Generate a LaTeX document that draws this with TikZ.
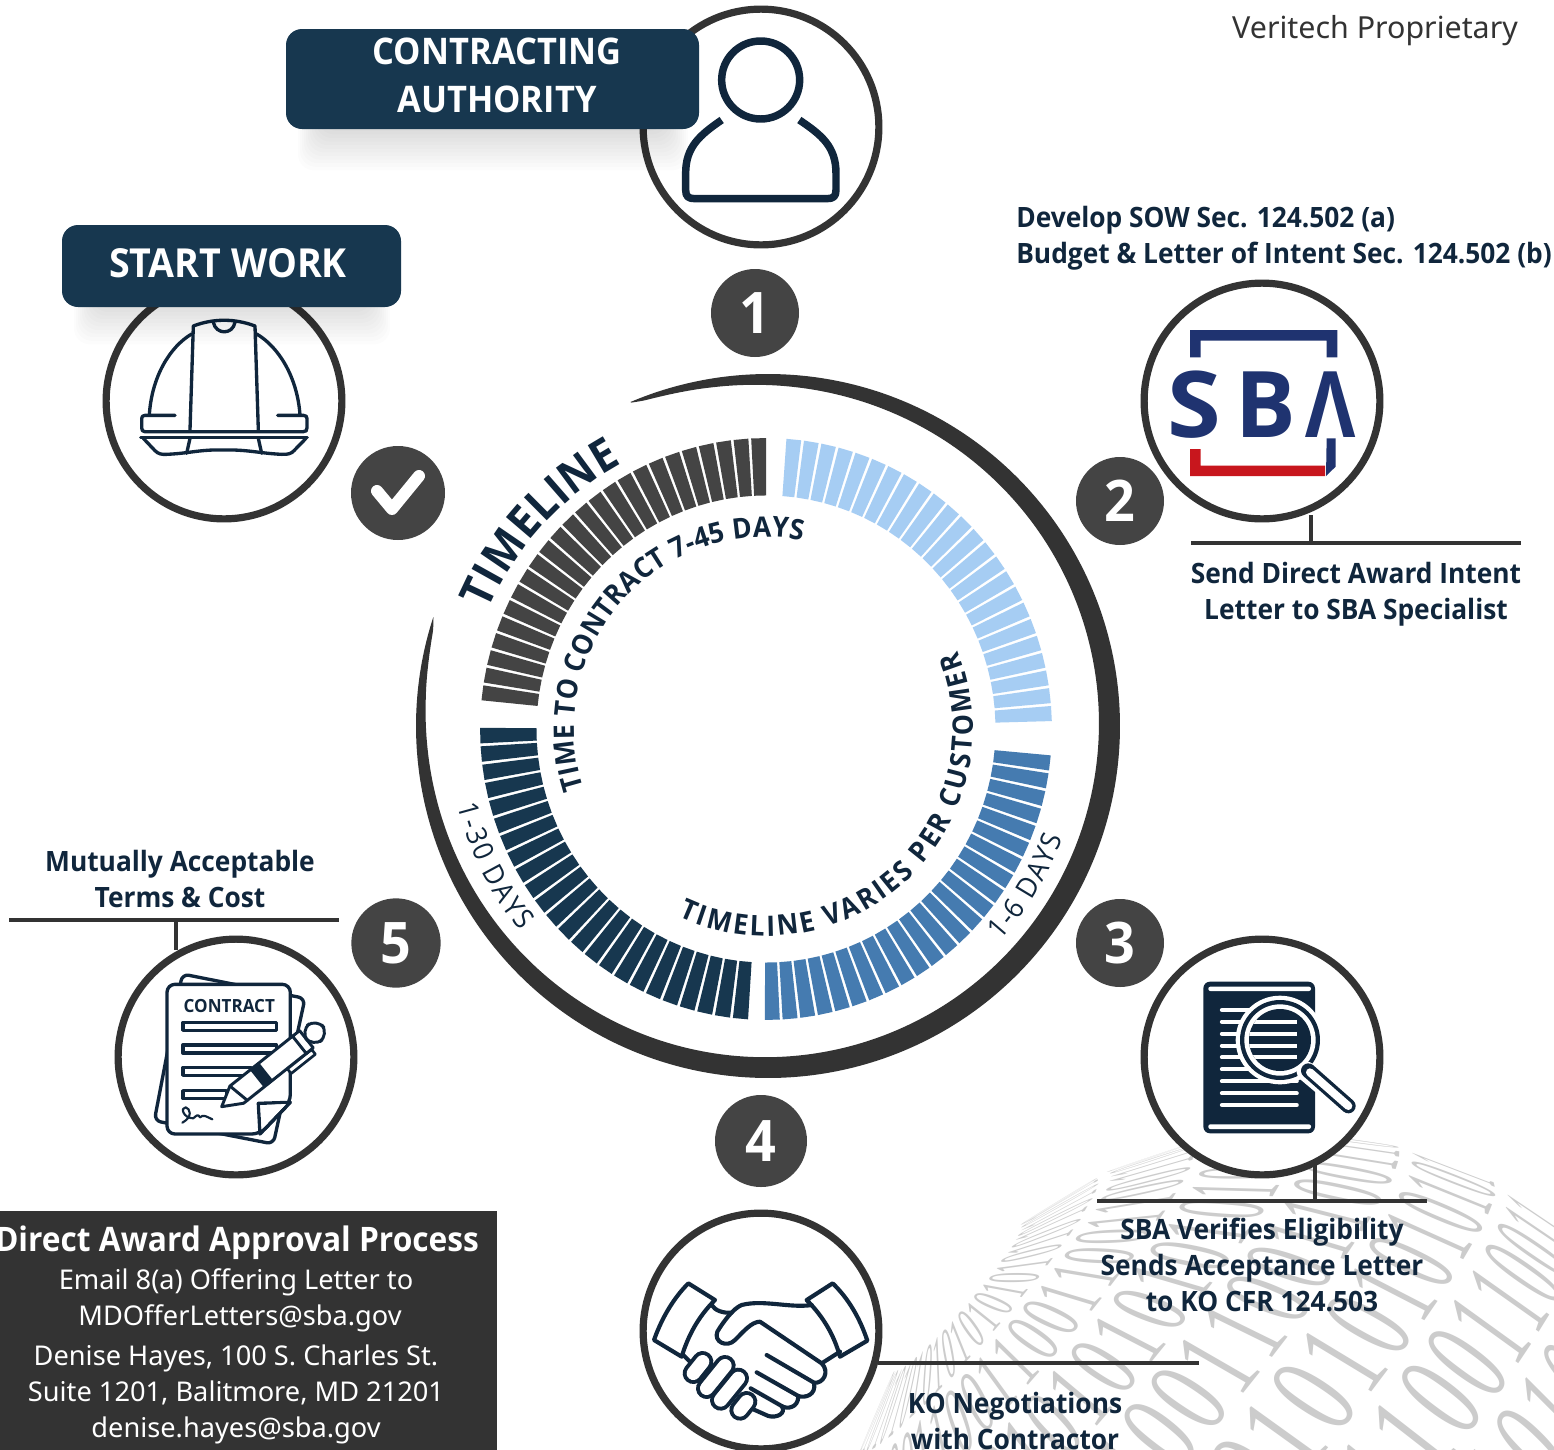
\documentclass[tikz,border=0pt]{standalone}
\usepackage{fontspec}
\usepackage{graphicx}
\setmainfont{Noto Sans}
\newfontfamily\hd{Open Sans}[FakeStretch=0.94]
\newfontfamily\wmf{Liberation Serif}
\newfontfamily\logof{Open Sans}
\usetikzlibrary{decorations.text}
\definecolor{ink}{HTML}{10263C}
\definecolor{banner}{HTML}{17374F}
\definecolor{ring}{HTML}{333333}
\definecolor{disc}{HTML}{444444}
\definecolor{lblue}{HTML}{A6CDF3}
\definecolor{mblue}{HTML}{457BB0}
\definecolor{sbab}{HTML}{1F3370}
\definecolor{sbar}{HTML}{C8161D}
\definecolor{wmc}{HTML}{CCCCCC}
\tikzset{
  iconring/.style={circle,draw=ring,line width=5.4pt,fill=white,minimum size=176.8pt,inner sep=0pt},
  numdisc/.style={circle,fill=disc,text=white,inner sep=0pt,font=\hd\bfseries\fontsize{43}{43}\selectfont},
  bannerbox/.style={rounded corners=12pt,fill=banner,inner sep=0pt},
  bannertxt/.style={text=white,align=center,inner sep=0pt,font=\hd\fontsize{27.5}{36}\selectfont\bfseries},
  lbl/.style={text=ink,inner sep=0pt,align=center,font=\hd\bfseries\fontsize{21}{27}\selectfont},
  boxt/.style={text=white,inner sep=0pt,anchor=base,font=\fontsize{20.4}{24}\selectfont},
  leader/.style={draw=ring,line width=3pt},
  ic/.style={draw=ink,line width=2.5pt,line cap=round,line join=round},
  hs/.style={draw=ink,line width=3.1pt,line cap=round,line join=round},
  icw/.style={draw=ink,fill=white,line width=2.5pt,line cap=round,line join=round},
  zoomed/.style={xscale=1/3,yscale=1/3}
}
\newcommand\barring[3]{\foreach \i in {0,...,23}{%
  \pgfmathsetmacro\aa{#1+(#2-#1)*\i/24}\pgfmathsetmacro\ab{#1+(#2-#1)*(\i+0.84)/24}%
  \fill[#3] (\aa:232)--(\aa:289)--(\ab:289)--(\ab:232)--cycle;}}
\newcommand\arcfont{\color{ink}\hd\bfseries\fontsize{21.2}{25}\selectfont}
\newcommand\arcfontb{\color{ink}\hd\bfseries\fontsize{34}{36}\selectfont}
\newcommand\arcfonts{\color{ink}\hd\fontsize{21}{24}\selectfont}
\begin{document}
\begin{tikzpicture}[x=0.75pt,y=-0.75pt]
\useasboundingbox (0,0) rectangle (1554,1450);
\clip (0,0) rectangle (1554,1450);
\fill[white] (0,0) rectangle (1554,1450);

% binary sphere watermark: orthographic sphere whose pole lies on the lower-left limb
\foreach \rw in {0,...,11}{
  \foreach \cn in {0,...,26}{
    \pgfmathsetmacro\th{18+13*\rw}
    \pgfmathsetmacro\la{-180+7*\cn+mod(\rw,2)*3.5}
    \pgfmathsetmacro\st{sin(\th)}\pgfmathsetmacro\ct{cos(\th)}
    \pgfmathsetmacro\sl{sin(\la)}\pgfmathsetmacro\cl{cos(\la)}
    \pgfmathsetmacro\qx{\st*(0.655*\cl-0.0907*\sl)-0.75*\ct}
    \pgfmathsetmacro\qy{\st*(0.756*\cl+0.0786*\sl)+0.65*\ct}
    \pgfmathsetmacro\qz{-0.993*\st*\sl+0.12*\ct}
    \pgfmathsetmacro\sx{1290+451*\qx}
    \pgfmathsetmacro\sy{1586-451*\qy}
    \pgfmathtruncatemacro\vis{and(\qz>0.05,and(\sy<1510,and(\sx<1620,\sx>780)))}
    \ifnum\vis=1
      \pgfmathsetmacro\ma{0.72*\st*(-0.655*\sl-0.0907*\cl)}
      \pgfmathsetmacro\mb{0.72*\st*(-0.756*\sl+0.0786*\cl)}
      \pgfmathsetmacro\mc{-1.0*(\ct*(0.655*\cl-0.0907*\sl)+0.75*\st)}
      \pgfmathsetmacro\md{-1.0*(\ct*(0.756*\cl+0.0786*\sl)-0.65*\st)}
      \pgfmathtruncatemacro\dg{mod(\rw*\rw+\cn*3+int(\cn/2)*\rw+1000,2)}
      \begin{scope}[cm={\ma,\mb,\mc,\md,(\sx,\sy)}]
        \node[transform shape,inner sep=0pt,text=wmc,font=\wmf\fontsize{100}{100}\selectfont] {\dg};
      \end{scope}
    \fi
  }
}

% central dial
\begin{scope}[shift={(768*0.75pt,-726*0.75pt)},x=0.75pt,y=0.75pt]
  \fill[ring] plot[domain=0:1,samples=160,smooth] ({113-311*\x}:{352}) --
     plot[domain=1:0,samples=160,smooth] ({113-311*\x}:{352-22*pow(max(sin(180*\x),0.0001),0.47)}) -- cycle;
\end{scope}
\begin{scope}[shift={(766*0.75pt,-729*0.75pt)},x=0.75pt,y=0.75pt]
  \begin{scope}[x=0.742pt,y=0.755pt]
  \barring{90}{174.9}{disc}
  \barring{85.9}{1.0}{lblue}
  \barring{-5.2}{-90.8}{mblue}
  \barring{266.4}{179.2}{banner}
  \end{scope}
  \path[decorate,decoration={text along path,text align=fit to path,text={|\arcfontb|TIMELINE}}]
     (157:302) arc[start angle=157,end angle=118.5,radius={302*0.75pt}];
  \path[decorate,decoration={text along path,text align=fit to path,text={|\arcfont|TIME TO CONTRACT 7-45 DAYS}}]
     (198:192) arc[start angle=198,end angle=79,radius={192*0.75pt}];
  \path[decorate,decoration={text along path,text align=fit to path,text={|\arcfont|TIMELINE VARIES PER CUSTOMER}}]
     (245:207) arc[start angle=245,end angle=382,radius={207*0.75pt}];
  \path[decorate,decoration={text along path,text align=fit to path,text={|\arcfonts|1-30 DAYS}}]
     (194:318) arc[start angle=194,end angle=219.5,radius={318*0.75pt}];
  \path[decorate,decoration={text along path,text align=fit to path,text={|\arcfonts|1-6 DAYS}}]
     (318:316) arc[start angle=318,end angle=339.8,radius={316*0.75pt}];
\end{scope}

% numbered discs
\node[numdisc,minimum size=66pt] (n1) at (755,313) {1};
\node[numdisc,minimum size=66pt] (n2) at (1120,501) {2};
\node[numdisc,minimum size=66pt] (n3) at (1120,943) {3};
\node[numdisc,minimum size=69pt] (n4) at (761,1141) {4};
\node[numdisc,minimum size=67pt] (n5) at (396,943) {5};
\node[circle,fill=disc,minimum size=70.5pt,inner sep=0pt] (nc) at (398,493) {};
\draw[white,line width=9pt,line cap=round,line join=round] (377,491) -- (392,509) -- (419,476);

% leader anchors
\coordinate (l2a) at (1191,543); \coordinate (l2b) at (1521,543);
\coordinate (l2v) at (1311,515); \coordinate (l2t) at (1311,543);
\coordinate (l5a) at (9,920); \coordinate (l5b) at (339,920);
\coordinate (l5v) at (176,950); \coordinate (l5t) at (176,920);
\coordinate (l3a) at (1097,1201); \coordinate (l3b) at (1427,1201);
\coordinate (l3v) at (1315,1165); \coordinate (l3t) at (1315,1201);
\coordinate (l4a) at (878,1363); \coordinate (l4b) at (1199,1363);
\draw[leader] (l2a) -- (l2b); \draw[leader] (l2v) -- (l2t);
\draw[leader] (l5a) -- (l5b); \draw[leader] (l5v) -- (l5t);
\draw[leader] (l3a) -- (l3b); \draw[leader] (l3v) -- (l3t);
\draw[leader] (l4a) -- (l4b);

% icon rings
\node[iconring] (c1) at (761,127) {};
\node[iconring] (c2) at (1262,401) {};
\node[iconring] (c3) at (1262,1057) {};
\node[iconring] (c4) at (761,1331) {};
\node[iconring] (c5) at (236,1057) {};
\node[iconring] (c0) at (224,401) {};

% person
\begin{scope}[shift={(620,0)},zoomed]
  \draw[ic,line width=5.6pt] (422,240) circle[radius=117];
  \draw[ic,line width=5.6pt,line cap=butt] (305,360) .. controls (240,405) and (197,440) .. (197,520) -- (197,570)
     .. controls (197,590) and (205,596) .. (225,596) -- (620,596) .. controls (640,596) and (648,590) .. (648,570)
     -- (648,520) .. controls (648,440) and (605,405) .. (538,360);
\end{scope}

% hard hat
\begin{scope}[shift={(90,290)},zoomed]
  \draw[ic] (178,375) .. controls (185,260) and (240,170) .. (305,132);
  \draw[ic] (500,132) .. controls (565,170) and (622,260) .. (630,375);
  \draw[ic] (300,420) -- (310,108) .. controls (370,85) and (435,85) .. (495,108) -- (505,420);
  \draw[ic] (370,97) .. controls (378,135) and (428,135) .. (435,97);
  \draw[ic] (255,376) -- (165,376) .. controls (158,376) and (155,380) .. (155,386) -- (155,413)
     .. controls (155,422) and (158,425) .. (165,425) -- (640,425) .. controls (648,425) and (651,422) .. (651,413)
     -- (651,386) .. controls (651,380) and (648,376) .. (640,376) -- (563,376);
  \draw[ic] (152,443) -- (652,443);
  \draw[ic] (160,445) -- (195,482) .. controls (205,492) and (215,494) .. (230,493)
     .. controls (300,490) and (330,478) .. (400,480) .. controls (470,478) and (510,490) .. (575,493)
     .. controls (595,494) and (605,490) .. (612,482) -- (648,445);
  \draw[ic] (300,445) -- (290,490);
  \draw[ic] (505,445) -- (515,490);
\end{scope}

% SBA logo
\begin{scope}[shift={(1130,275)},zoomed]
  \fill[sbab] (180,247) -- (180,165) -- (622,165) -- (622,247) -- (590,247) -- (590,197) -- (212,197) -- (212,247) -- cycle;
  \fill[sbar] (180,522) -- (212,522) -- (212,572) -- (585,572) -- (585,603) -- (180,603) -- cycle;
  \fill[sbab] (590,490) -- (617,490) -- (617,575) -- (588,603) -- cycle;
  \node[inner sep=0pt,text=sbab,font=\logof\bfseries\fontsize{69}{69}\selectfont] (sbaS) at (193,389) {\scalebox{1.06}[1]{S}};
  \node[inner sep=0pt,text=sbab,font=\logof\bfseries\fontsize{69}{69}\selectfont] (sbaB) at (406,389) {\scalebox{0.98}[1]{B}};
  \node[inner sep=0pt,text=sbab,font=\logof\bfseries\fontsize{69}{69}\selectfont] (sbaL) at (602,389) {\scalebox{0.84}[1]{Λ}};
\end{scope}

% document with lens
\begin{scope}[shift={(1130,930)},zoomed]
  \fill[ink,rounded corners=5pt] (220,155) rectangle (555,610);
  \fill[white,rounded corners=1.5pt] (235,170) rectangle (543,183);
  \fill[white,rounded corners=1.5pt] (235,583) rectangle (543,597);
  \foreach \yy in {240,275,311,347,382,418,454,490,525}{
    \draw[white,line width=3.2pt,line cap=round] (276,\yy) -- (500,\yy);
  }
  \fill[white] (450,330) circle[radius=133];
  \fill[ink] (450,330) circle[radius=120];
  \fill[white] (450,330) circle[radius=107];
  \fill[ink] (450,330) circle[radius=93];
  \begin{scope}
    \clip (450,330) circle[radius=93];
    \foreach \yy in {275,311,347,382}{
      \draw[white,line width=3.2pt,line cap=butt] (350,\yy) -- (500,\yy);
    }
  \end{scope}
  \draw[white,line width=15pt,line cap=round] (530,425) -- (655,530);
  \draw[ink,line width=11pt,line cap=round] (535,422) -- (655,528);
  \draw[white,line width=6pt,line cap=round] (540,427) -- (655,528);
\end{scope}

% contract
\begin{scope}[shift={(105,930)},zoomed]
  \draw[icw,rounded corners=5pt] (232,132) -- (600,205) -- (505,642) -- (148,572) -- cycle;
  \draw[icw,rounded corners=6pt] (186,163) -- (556,163) -- (556,517) -- (465,612) -- (186,612) -- cycle;
  \draw[ic] (460,520) -- (556,517) -- (465,612) -- cycle;
  \fill[white] (466,526) -- (543,522) -- (470,598) -- cycle;
  \node[inner sep=0pt,text=ink,font=\hd\bfseries\fontsize{13.6}{16}\selectfont] (ctxt) at (373,228) {CONTRACT};
  \draw[ic,line width=2.5pt] (234,277) rectangle (515,301);
  \draw[ic,line width=2.5pt] (234,345) rectangle (515,369);
  \draw[ic,line width=2.5pt] (234,412) rectangle (440,436);
  \draw[ic,line width=2.5pt] (234,482) rectangle (365,506);
  \draw[ic,line width=1.6pt] (232,578) .. controls (265,560) and (255,535) .. (242,532) .. controls (225,532) and (235,565) .. (265,565)
     .. controls (275,555) and (280,552) .. (285,562) .. controls (295,552) and (305,560) .. (322,568);
  \begin{scope}[shift={(350,530)},rotate=38.5]
    \draw[ic,fill=white,line width=2.2pt] (0,0) -- (58,-33) -- (300,-33) -- (300,33) -- (58,33) -- cycle;
    \fill[ink] (135,-33) rectangle (170,33);
    \draw[ic,line width=2.2pt] (58,-33) -- (72,33);
    \draw[ic,fill=white,line width=2pt] (225,34) rectangle (318,52);
    \draw[ic,fill=white,line width=2.2pt] (298,-33) rectangle (325,33);
    \draw[icw,line width=2.2pt,rounded corners=9pt] (325,-31) -- (388,-31) -- (388,31) -- (325,31) -- cycle;
  \end{scope}
\end{scope}

% handshake
\begin{scope}[shift={(630,1200)},zoomed]
  \draw[hs] (175,250) -- (255,300) .. controls (205,350) and (175,405) .. (155,470) -- (72,420) .. controls (95,355) and (130,295) .. (175,250) -- cycle;
  \draw[hs] (608,250) -- (530,300) .. controls (580,350) and (612,405) .. (630,470) -- (712,422) .. controls (690,355) and (655,295) .. (608,250) -- cycle;
  \draw[hs] (245,315) .. controls (255,332) and (280,340) .. (305,338);
  \draw[hs] (545,315) .. controls (480,325) and (400,298) .. (335,315) .. controls (310,325) and (280,365) .. (262,395)
     .. controls (250,425) and (290,445) .. (315,420) .. controls (340,395) and (365,365) .. (390,365) -- (575,490)
     .. controls (600,515) and (580,552) .. (552,548) -- (410,465);
  \draw[hs] (575,490) -- (630,455);
  \draw[hs] (160,465) -- (185,490);
  \draw[hs] (552,548) .. controls (560,585) and (525,595) .. (505,588) -- (380,517);
  \draw[hs] (505,588) .. controls (505,625) and (470,628) .. (455,618) -- (362,565);
  \draw[hs] (455,618) .. controls (470,640) and (440,655) .. (415,648) -- (370,628);
  \foreach \ax/\ay/\bx/\by in {190/520/218/485, 230/565/285/497, 272/600/325/535, 330/630/350/605}{
    \draw[ink,line width=16pt,line cap=round] (\ax,\ay) -- (\bx,\by);
    \draw[white,line width=10pt,line cap=round] (\ax,\ay) -- (\bx,\by);
  }
\end{scope}

% banner shadows and banners
\foreach \s in {1,...,12}{
  \fill[black,opacity=0.012,rounded corners=12pt] ({296+2*\s},40) rectangle ({690-2*\s},{174-3.6*\s});
  \fill[black,opacity=0.012,rounded corners=12pt] ({72+2*\s},240) rectangle ({392-2*\s},{348-3.6*\s});
}
\node[bannerbox,minimum width=309.75pt,minimum height=75pt] (ca) at (492.5,79) {};
\node[bannertxt] (cat) at (497,75) {CONTRACTING\\AUTHORITY};
\node[bannerbox,minimum width=254.25pt,minimum height=61.5pt] (sw) at (231.5,266) {};
\node[bannertxt,font=\hd\fontsize{30}{36}\selectfont\bfseries] (swt) at (228,263) {START WORK};

% labels
\node[text=ring,inner sep=0pt,font=\fontsize{22.8}{26}\selectfont] (vp) at (1375,31) {Veritech Proprietary};
\node[lbl,align=left,anchor=west] (t2) at (1016,238) {Develop SOW Sec. 124.502 (a)\\Budget \& Letter of Intent Sec. 124.502 (b)};
\node[lbl] (t2b) at (1356,594) {Send Direct Award Intent\\Letter to SBA Specialist};
\node[lbl] (t5) at (180,879) {Mutually Acceptable\\Terms \& Cost};
\node[lbl] (t3) at (1262,1265) {SBA Verifies Eligibility\\Sends Acceptance Letter\\to KO CFR 124.503};
\node[lbl] (t4) at (1015,1421) {KO Negotiations\\with Contractor};

% address box
\fill[ring] (0,1211) rectangle (497,1450);
\node[text=white,inner sep=0pt,anchor=base,font=\hd\bfseries\fontsize{25.3}{28}\selectfont] (b0) at (237,1251) {Direct Award Approval Process};
\node[boxt] (b1) at (236,1289) {Email 8(a) Offering Letter to};
\node[boxt] (b2) at (240,1325) {MDOfferLetters@sba.gov};
\node[boxt] (b3) at (236,1365) {Denise Hayes, 100 S. Charles St.};
\node[boxt] (b4) at (236,1401) {Suite 1201, Balitmore, MD 21201};
\node[boxt] (b5) at (236,1437) {denise.hayes@sba.gov};
\end{tikzpicture}
\end{document}
